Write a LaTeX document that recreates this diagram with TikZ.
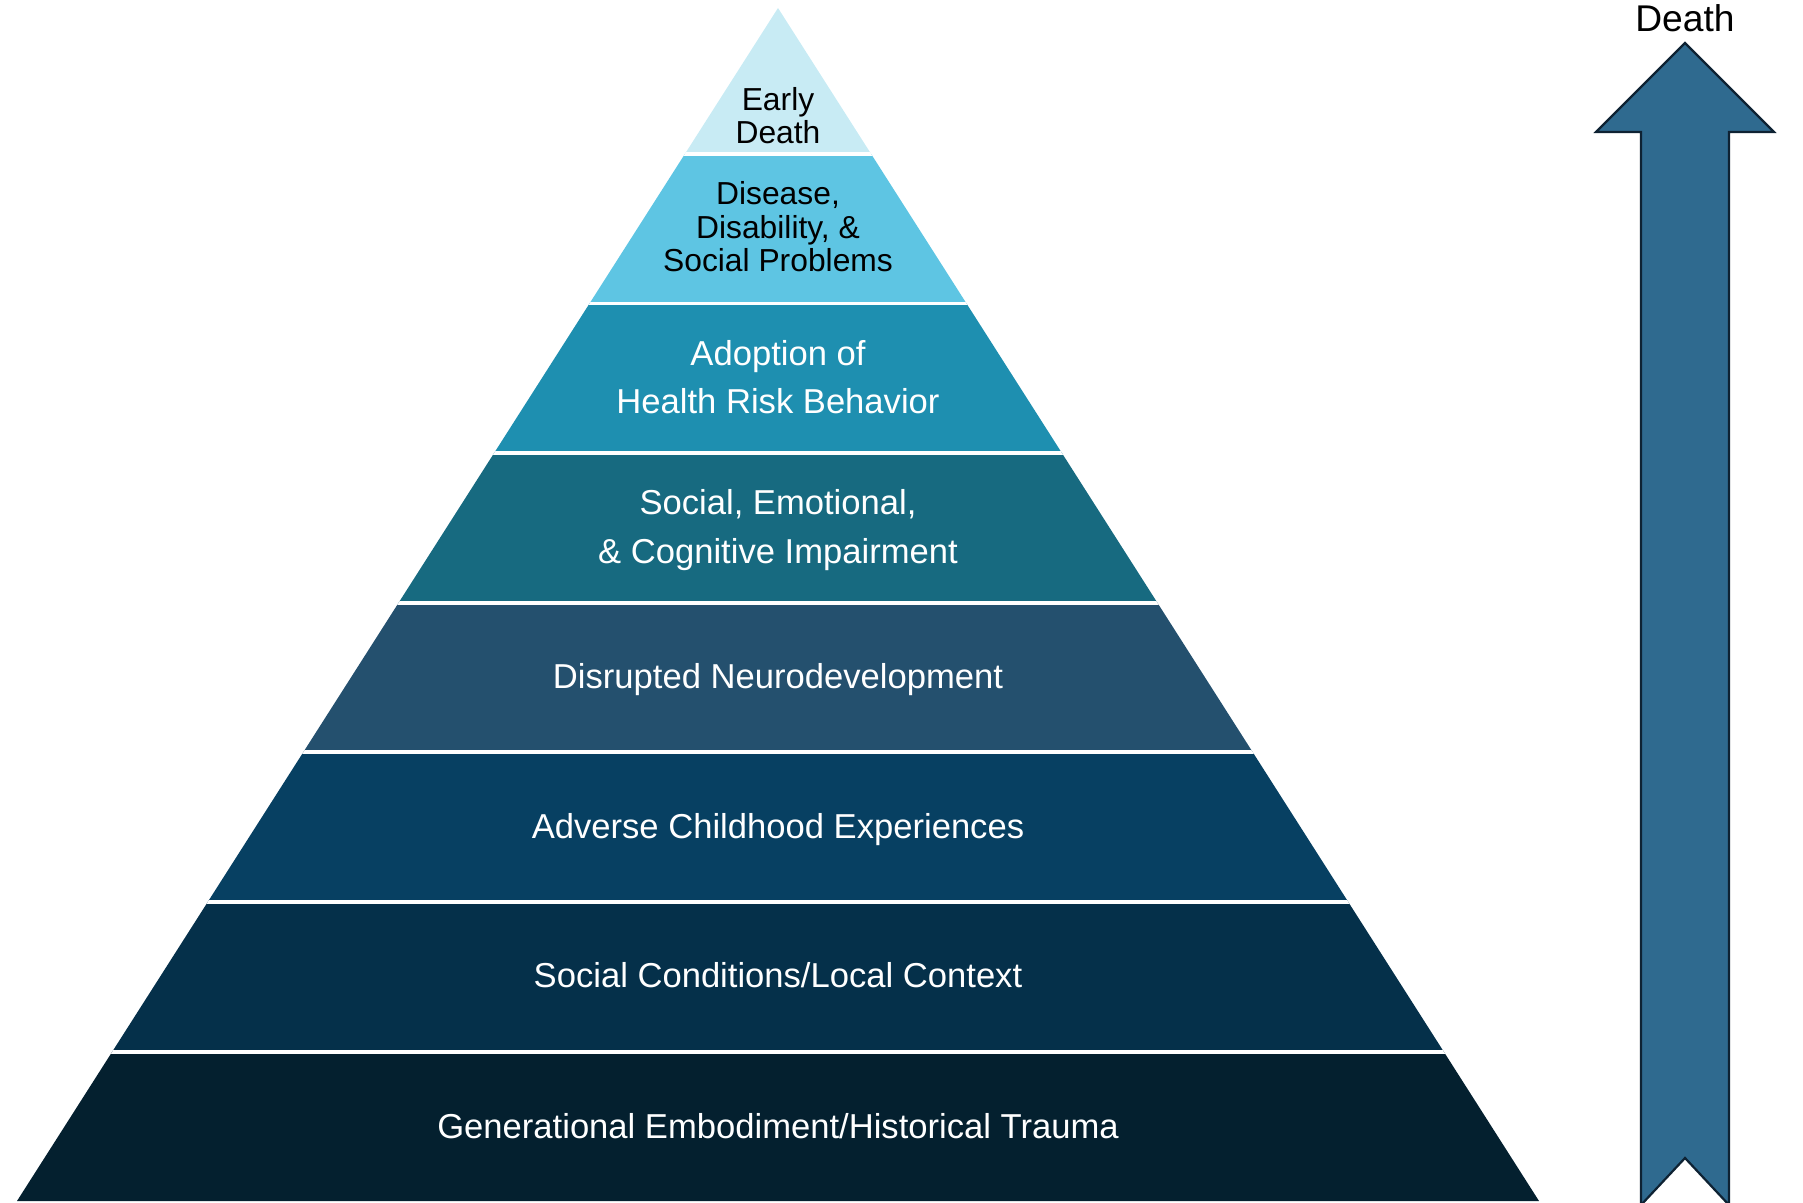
\documentclass[tikz,border=0pt]{standalone}
\usepackage{fontspec}
\setmainfont{Liberation Sans}
\definecolor{cA}{HTML}{C8EBF4}
\definecolor{cB}{HTML}{5EC5E3}
\definecolor{cC}{HTML}{1E8FB0}
\definecolor{cD}{HTML}{176A80}
\definecolor{cE}{HTML}{24506E}
\definecolor{cF}{HTML}{074062}
\definecolor{cG}{HTML}{05304A}
\definecolor{cH}{HTML}{04202F}
\definecolor{arrowfill}{HTML}{2F6A8F}
\definecolor{arrowline}{HTML}{0E2233}
\tikzset{
  big/.style={font=\fontsize{17.3}{24.5}\selectfont, align=center, anchor=base, inner sep=0pt},
  small/.style={font=\fontsize{15.9}{16.75}\selectfont, align=center, anchor=base, inner sep=0pt},
  sep/.style={draw=white, line width=1.6pt},
}
\begin{document}
\begin{tikzpicture}[x=0.5pt,y=-0.5pt]
\useasboundingbox (0,0) rectangle (1803,1203);
\begin{scope}
  \clip (778,8) -- (17,1201) -- (1539,1201) -- cycle;
  \fill[cA] (0,0) rectangle (1803,154);
  \fill[cB] (0,154) rectangle (1803,303.5);
  \fill[cC] (0,303.5) rectangle (1803,453);
  \fill[cD] (0,453) rectangle (1803,603);
  \fill[cE] (0,603) rectangle (1803,752);
  \fill[cF] (0,752) rectangle (1803,902);
  \fill[cG] (0,902) rectangle (1803,1052);
  \fill[cH] (0,1052) rectangle (1803,1203);
  \foreach \yy in {154,303.5,453,603,752,902,1052}
    \draw[sep] (0,\yy) -- (1803,\yy);
\end{scope}
\node[small] (l1) at (778,144) {Early\\Death};
\node[small] (l2) at (778,272) {Disease,\\Disability, \&\\Social Problems};
\node[big,text=white] (l3) at (778,414) {Adoption of\\Health Risk Behavior};
\node[big,text=white] (l4) at (778,563) {Social, Emotional,\\\& Cognitive Impairment};
\node[big,text=white] (l5) at (778,688) {Disrupted Neurodevelopment};
\node[big,text=white] (l6) at (778,838) {Adverse Childhood Experiences};
\node[big,text=white] (l7) at (778,987) {Social Conditions/Local Context};
\node[big,text=white] (l8) at (778,1138) {Generational Embodiment/Historical Trauma};
\draw[fill=arrowfill, draw=arrowline, line width=1.1pt, line join=miter]
  (1685,43) -- (1774,132) -- (1729,132) -- (1729,1205) -- (1685,1158)
  -- (1641,1205) -- (1641,132) -- (1596,132) -- cycle;
\node[font=\fontsize{18.6}{22}\selectfont, anchor=base, inner sep=0pt] (death) at (1685,32) {Death};
\end{tikzpicture}
\end{document}
